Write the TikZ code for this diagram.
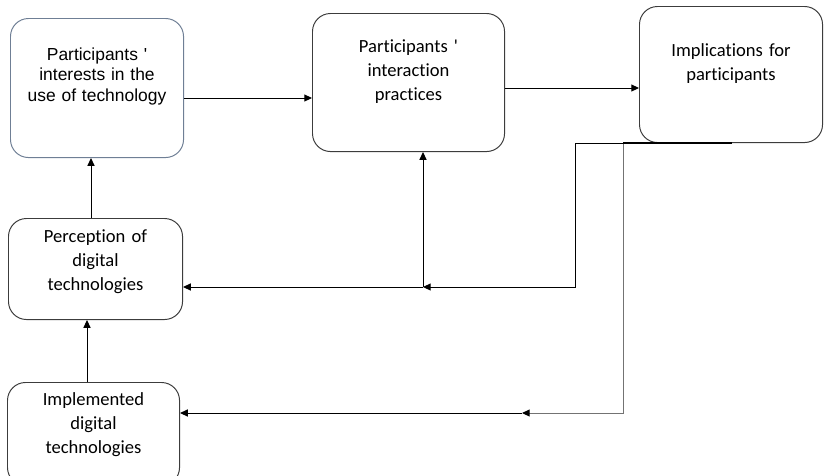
\documentclass[tikz,border=0pt]{standalone}
\usepackage{fontspec}
\setmainfont[Ligatures=NoCommon]{Carlito}
\newfontfamily\arialfont{Liberation Sans}
\usetikzlibrary{arrows.meta, positioning}
\definecolor{slateline}{HTML}{6F7F95}
\definecolor{boxline}{HTML}{3C3C3C}

\tikzset{
  card/.style={draw=boxline, line width=0.7pt, rounded corners=0.45cm, align=center,
    inner sep=0pt, anchor=north west, font=\fontsize{13.2}{17}\selectfont},
  link/.style={line width=0.7pt, -{Triangle[length=5.5pt,width=5pt,color=black]}},
}

\begin{document}
\begin{tikzpicture}[x=0.025cm, y=-0.025cm]
\useasboundingbox (0,0) rectangle (828,475);
% boxes
\node[card, draw=slateline, font=\arialfont\fontsize{12.4}{14.5}\selectfont, text width=3.9cm,
  minimum width=4.325cm, text height=1.05cm, text depth=2.425cm] (interest) at (10,18)
  {Participants \textquotesingle\\ interests in the\\ use of technology};
\node[card, text width=4.2cm, minimum width=4.8cm, text height=0.975cm, text depth=2.475cm]
  (interaction) at (312,13) {Participants \textquotesingle\\ interaction\\ practices};
\node[card, text width=4cm, minimum width=4.575cm, text height=1.25cm, text depth=2.15cm]
  (implications) at (639,6) {Implications for\\ participants};
\node[card, text width=3.8cm, minimum width=4.35cm, text height=0.6cm, text depth=1.925cm]
  (perception) at (8,218) {Perception of\\ digital\\ technologies};
\node[card, text width=3.8cm, minimum width=4.3cm, text height=0.575cm, text depth=2cm]
  (implemented) at (7,382) {Implemented\\ digital\\ technologies};

% forward arrows
\draw[link] (interest.east |- 0,98) -- (interaction.west |- 0,98);
\draw[link] (interaction.east |- 0,88) -- (implications.west |- 0,88);
\draw[link] (perception.north -| 91,0) -- (interest.south -| 91,0);
\draw[link] (implemented.north -| 87,0) -- (perception.south -| 87,0);

% feedback lines
\coordinate (fbend) at (732,143);
\coordinate (fbleft) at (575,143);
\coordinate (fbright) at (623,143);
\coordinate (hubmid) at (423,287);
\coordinate (hublow) at (522,413);
\draw[link, draw=black!55] (fbright) |- (hublow);
\draw[link] (hublow) -- (implemented.east |- hublow);
\draw[line width=1.4pt] (fbright) -- (fbend);
\draw[link] (fbend) -- (fbleft) |- (hubmid);
\draw[link] (hubmid) -- (perception.east |- hubmid);
\draw[link] (hubmid) -- (interaction.south -| hubmid);
\end{tikzpicture}
\end{document}
